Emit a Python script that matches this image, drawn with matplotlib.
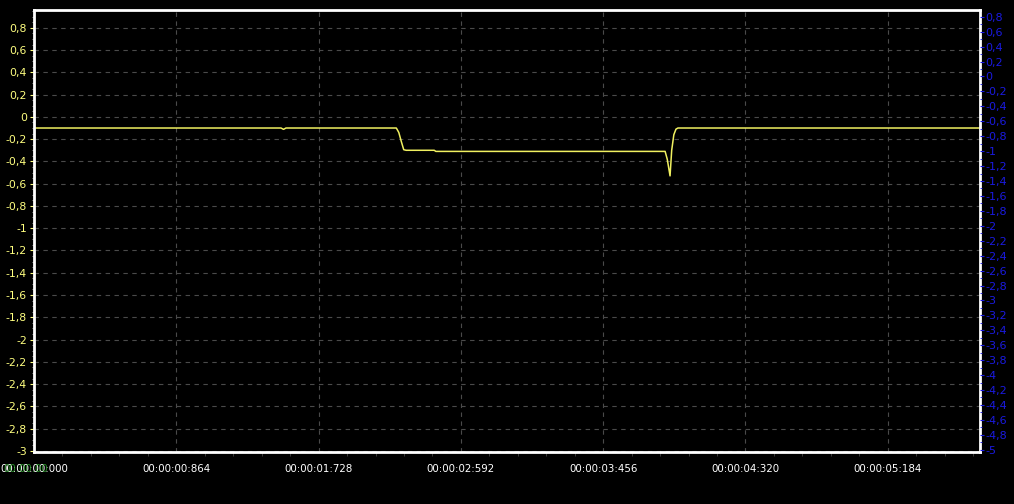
import matplotlib.pyplot as plt
import matplotlib.ticker as mticker
import numpy as np

# Signal samples (time in seconds, value)
t_vals = [0.0, 1.48, 1.50, 1.515, 1.53, 1.55, 2.20, 2.215, 2.23, 2.245, 2.26,
          2.43, 2.44, 3.832, 3.845, 3.862, 3.872, 3.885, 3.898, 3.91, 5.75]
v_vals = [-0.10, -0.10, -0.10, -0.112, -0.10, -0.10, -0.10, -0.14, -0.22, -0.295, -0.30,
          -0.30, -0.31, -0.31, -0.38, -0.53, -0.30, -0.16, -0.11, -0.10, -0.10]

x_ticks = [0.0, 0.864, 1.728, 2.592, 3.456, 4.320, 5.184]
x_labels = ['00:00:00:000', '00:00:00:864', '00:00:01:728', '00:00:02:592',
            '00:00:03:456', '00:00:04:320', '00:00:05:184']
left_ticks = [round(0.8 - 0.2 * i, 1) for i in range(20)]
right_ticks = [round(0.8 - 0.2 * i, 1) for i in range(30)]


def comma_fmt(v, pos=None):
    if abs(v) < 1e-9:
        return '0'
    s = ('%.1f' % v).rstrip('0').rstrip('.')
    return s.replace('.', ',')


fig = plt.figure(figsize=(10.14, 5.04), dpi=100, facecolor='black')
ax = fig.add_axes([34 / 1014, 52 / 504, 946 / 1014, 442 / 504])
ax.set_facecolor('black')

ax.plot(t_vals, v_vals, color='#f0f060', linewidth=1.1)

ax.set_xlim(0, 5.744)
ax.set_ylim(-3.01, 0.96)

ax.set_xticks(x_ticks)
ax.set_xticklabels(x_labels)
ax.set_yticks(left_ticks)
ax.yaxis.set_major_formatter(mticker.FuncFormatter(comma_fmt))
ax.xaxis.set_minor_locator(mticker.MultipleLocator(0.864 / 5))
ax.yaxis.set_minor_locator(mticker.MultipleLocator(0.05))

ax.grid(True, which='major', color='#4a4a4a', linestyle=(0, (4, 4)), linewidth=0.8)

for side in ['left', 'top', 'right', 'bottom']:
    ax.spines[side].set_color('white')
    ax.spines[side].set_linewidth(2)

ax.tick_params(axis='y', colors='#ffff80', labelsize=7.8, length=3, width=0.8, pad=2)
ax.tick_params(axis='y', which='minor', colors='#aaaaaa', length=1.5, width=0.6)
ax.tick_params(axis='x', colors='white', labelsize=7.4, length=0, pad=9)
ax.tick_params(axis='x', which='minor', colors='#444444', length=3, width=0.6, direction='out')
for lbl in ax.get_yticklabels():
    lbl.set_color('#ffff80')
for lbl in ax.get_xticklabels():
    lbl.set_color('white')

# Secondary (right) axis
ax2 = ax.twinx()
ax2.set_ylim(-5.03, 0.89)
ax2.set_yticks(right_ticks)
ax2.yaxis.set_major_formatter(mticker.FuncFormatter(comma_fmt))
ax2.yaxis.set_minor_locator(mticker.MultipleLocator(0.1))
ax2.tick_params(axis='y', colors='#1a1ae0', labelsize=8, length=3, width=0.8, pad=1)
ax2.tick_params(axis='y', which='minor', colors='#1a1ae0', length=1.5, width=0.6)
for side in ['left', 'top', 'right', 'bottom']:
    ax2.spines[side].set_visible(False)

# Green overlapping start label
fig.text(3 / 1014, 1 - 469 / 504, '00.00.00', color='#2a9a2a', fontsize=7.4,
         ha='left', va='center', alpha=0.9)

fig.savefig('out.png', dpi=100, facecolor='black')
